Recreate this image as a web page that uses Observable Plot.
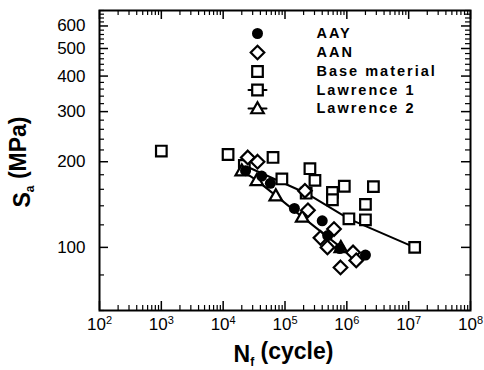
<!DOCTYPE html>
<html><head><meta charset="utf-8">
<script src="https://cdn.jsdelivr.net/npm/d3@7"></script>
<script src="https://cdn.jsdelivr.net/npm/@observablehq/plot@0.6"></script>
<style>body{margin:0;background:#fff} svg{display:block}</style>
</head><body><div id="chart"></div>
<script>
// ---- data (cycles N_f, stress amplitude S_a in MPa) ----
const aayN = [2.3e4, 4.2e4, 5.8e4, 1.42e5, 4.0e5, 4.9e5, 7.7e5, 2.0e6];
const aayS = [186, 178, 168, 137, 124, 110, 99, 94];
const aanN = [2.5e4, 3.6e4, 2.1e5, 2.35e5, 6.2e5, 3.74e5, 4.86e5, 1.26e6, 1.42e6, 7.9e5];
const aanS = [207, 200, 158, 135, 116, 108, 100, 96, 90, 85];
const baseN = [1.0e3, 1.2e4, 6.4e4, 8.9e4, 2.53e5, 3.05e5, 5.85e5, 5.85e5, 9.1e5, 2.69e6, 2.0e6, 2.0e6];
const baseS = [218, 212, 207, 174, 189, 172, 156, 147, 164, 163.5, 141.6, 125];
const law1N = [2.2e4, 2.2e5, 1.08e6, 1.25e7];
const law1S = [194, 155, 126, 100];
const law2N = [2.0e4, 3.5e4, 7.1e4, 1.9e5, 8.0e5];
const law2S = [186, 172, 152, 128, 100];
const legendLabels = ["AAY", "AAN", "Base material", "Lawrence 1", "Lawrence 2"];
const xTickValues = [1e2, 1e3, 1e4, 1e5, 1e6, 1e7, 1e8];
const yTickValues = [100, 200, 300, 400, 500, 600];
const xDomain = [1e2, 1e8];
const yDomain = [60, 680];

// ---- layout ----
const W = 484, H = 370, mL = 99, mR = 14, mT = 10, mB = 60;
const frameH = H - mT - mB, frameW = W - mL - mR;
const xs = d3.scaleLog(xDomain, [mL, W - mR]);
const ys = d3.scaleLog(yDomain, [H - mB, mT]);

const zip = (a, b) => a.map((v, i) => ({x: v, y: b[i]}));
const aay = zip(aayN, aayS), aan = zip(aanN, aanS), base = zip(baseN, baseS);
const law1 = zip(law1N, law1S), law2 = zip(law2N, law2S);

const xMinor = [];
for (let k = 2; k < 8; k++) for (let m = 2; m <= 9; m++) xMinor.push(m * 10 ** k);
const yMinor = d3.range(60, 681, 20).filter(v => v % 100 !== 0);

// symbols
const sq = {draw(c) { const h = 5.3; c.moveTo(-h, -h); c.lineTo(h, -h); c.lineTo(h, h); c.lineTo(-h, h); c.closePath(); }};
const dia = {draw(c) { const h = 6.8; c.moveTo(0, -h); c.lineTo(h, 0); c.lineTo(0, h); c.lineTo(-h, 0); c.closePath(); }};
const tri = {draw(c) { const h = 6.3; c.moveTo(0, -h); c.lineTo(h, h * 0.75); c.lineTo(-h, h * 0.75); c.closePath(); }};
const symbols = ["circle", dia, sq, sq, tri];

// legend layout (pixel -> data)
const legSymX = xs.invert(257), legTextX = xs.invert(316);
const legRowY = [33, 52, 71, 89.5, 108].map(p => ys.invert(p));
const legend = legendLabels.map((l, i) => ({label: l, y: legRowY[i], sym: symbols[i]}));
const legLines = [3, 4].flatMap(i => [{x: xs.invert(248), y: legRowY[i], k: i}, {x: xs.invert(266), y: legRowY[i], k: i}]);

const openDot = {x: "x", y: "y", r: 5, stroke: "black", strokeWidth: 2.2, fill: "white"};

const plot = Plot.plot({
  width: W, height: H,
  marginLeft: mL, marginRight: mR, marginTop: mT, marginBottom: mB,
  style: {fontFamily: "Liberation Sans, Arial, sans-serif", color: "black", background: "white"},
  x: {type: "log", domain: xDomain},
  y: {type: "log", domain: yDomain},
  marks: [
    // inward ticks
    Plot.ruleX(xTickValues, {x: d => d, insetTop: frameH - 9, stroke: "black", strokeWidth: 1.5}),
    Plot.ruleX(xTickValues, {x: d => d, insetBottom: frameH - 9, stroke: "black", strokeWidth: 1.5}),
    Plot.ruleX(xMinor, {x: d => d, insetTop: frameH - 5, stroke: "black", strokeWidth: 1.2}),
    Plot.ruleX(xMinor, {x: d => d, insetBottom: frameH - 5, stroke: "black", strokeWidth: 1.2}),
    Plot.ruleY(yTickValues, {y: d => d, insetRight: frameW - 9, stroke: "black", strokeWidth: 1.5}),
    Plot.ruleY(yTickValues, {y: d => d, insetLeft: frameW - 9, stroke: "black", strokeWidth: 1.5}),
    Plot.ruleY(yMinor, {y: d => d, insetRight: frameW - 5, stroke: "black", strokeWidth: 1.2}),
    Plot.ruleY(yMinor, {y: d => d, insetLeft: frameW - 5, stroke: "black", strokeWidth: 1.2}),
    Plot.axisY({ticks: yTickValues, tickSize: 0, tickPadding: 14, fontSize: 17, label: null, tickFormat: d => String(d)}),
    Plot.axisX({ticks: xTickValues, tickSize: 0, tickPadding: 7, fontSize: 17, label: null, tickFormat: d => "10^" + Math.round(Math.log10(d))}),
    Plot.frame({stroke: "black", strokeWidth: 2}),
    // Lawrence lines
    Plot.line(law1, {x: "x", y: "y", stroke: "black", strokeWidth: 2}),
    Plot.line(law2, {x: "x", y: "y", stroke: "black", strokeWidth: 2}),
    Plot.dot(law1, {...openDot, symbol: sq}),
    Plot.dot(law2, {...openDot, symbol: tri}),
    Plot.dot(base, {...openDot, symbol: sq}),
    Plot.dot(aan, {...openDot, symbol: dia}),
    Plot.dot(aay, {x: "x", y: "y", r: 5.5, fill: "black", symbol: "circle"}),
    // legend
    Plot.line(legLines, {x: "x", y: "y", z: "k", stroke: "black", strokeWidth: 2}),
    Plot.dot(legend.slice(0, 1), {x: () => legSymX, y: "y", r: 5.5, fill: "black", symbol: "circle"}),
    Plot.dot(legend.slice(1, 2), {x: () => legSymX, y: "y", r: 5, stroke: "black", strokeWidth: 2.2, fill: "white", symbol: dia}),
    Plot.dot(legend.slice(2, 4), {x: () => legSymX, y: "y", r: 5, stroke: "black", strokeWidth: 2.2, fill: "white", symbol: sq}),
    Plot.dot(legend.slice(4, 5), {x: () => legSymX, y: "y", r: 5, stroke: "black", strokeWidth: 2.2, fill: "white", symbol: tri}),
    Plot.text(legend, {x: () => legTextX, y: "y", text: "label", textAnchor: "start", fontSize: 14.5, fontWeight: "bold", fill: "black"})
  ]
});

// superscripts on x tick labels
const svg = d3.select(plot);
svg.selectAll('g[aria-label="x-axis tick label"] text').each(function () {
  const t = d3.select(this);
  const parts = t.text().split("^");
  if (parts.length === 2) {
    t.text(parts[0]);
    t.append("tspan").attr("dy", "-0.55em").attr("font-size", "11").text(parts[1]);
  }
});
svg.selectAll('g[aria-label="text"] text').attr("letter-spacing", "2px");

// axis titles with subscripts
const yl = svg.append("text")
  .attr("transform", `translate(30,${mT + frameH / 2 + 2}) rotate(-90)`)
  .attr("text-anchor", "middle").attr("font-size", 23).attr("font-weight", "bold").attr("fill", "black");
yl.append("tspan").text("S");
yl.append("tspan").attr("font-size", 12).attr("dy", "0.35em").text("a");
yl.append("tspan").attr("dy", "-0.35em").text(" (MPa)");

const xl = svg.append("text")
  .attr("transform", `translate(${mL + frameW / 2 - 1},${H - 8})`)
  .attr("text-anchor", "middle").attr("font-size", 23).attr("font-weight", "bold").attr("fill", "black");
xl.append("tspan").text("N");
xl.append("tspan").attr("font-size", 12).attr("dy", "0.3em").text("f");
xl.append("tspan").attr("dy", "-0.3em").text(" (cycle)");

document.getElementById("chart").appendChild(plot);
</script>
</body></html>
